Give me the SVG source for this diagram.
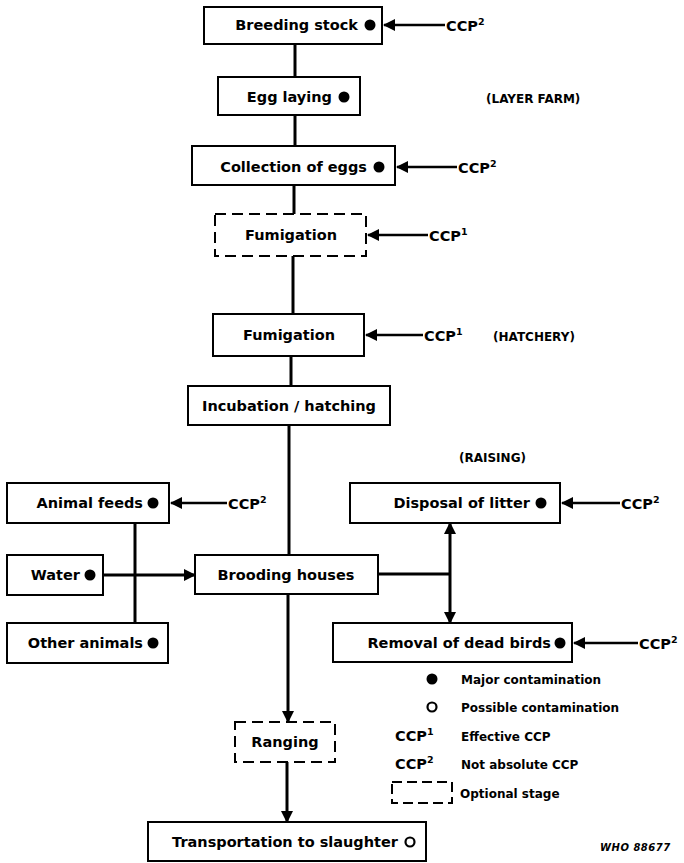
<svg xmlns="http://www.w3.org/2000/svg" width="684" height="863" viewBox="0 0 684 863">
<style>
.box{fill:#fff;stroke:#000;stroke-width:2}
.dash{fill:#fff;stroke:#000;stroke-width:2;stroke-dasharray:11 6}
.t{font-family:"DejaVu Sans","Liberation Sans",sans-serif;font-weight:bold;font-size:14.5px;fill:#000}
.c{text-anchor:middle}
.e{text-anchor:end}
.lab{font-family:"DejaVu Sans","Liberation Sans",sans-serif;font-weight:bold;font-size:12px;fill:#000}
.lg{font-family:"DejaVu Sans","Liberation Sans",sans-serif;font-weight:bold;font-size:12px;fill:#000}
.sup{font-size:9.5px}
.ln{stroke:#000;stroke-width:3;fill:none}
.thin{stroke:#000;stroke-width:2.5;fill:none}
</style>
<defs>
<marker id="ah" markerUnits="userSpaceOnUse" markerWidth="12" markerHeight="12" refX="11" refY="6" orient="auto">
<path d="M0,0 L12,6 L0,12 Z" fill="#000"/>
</marker>
<marker id="as" markerUnits="userSpaceOnUse" markerWidth="12" markerHeight="12" refX="1" refY="6" orient="auto">
<path d="M12,0 L0,6 L12,12 Z" fill="#000"/>
</marker>
</defs>

<g id="connectors">
<line class="ln" x1="295" y1="44" x2="295" y2="77"/>
<line class="ln" x1="295" y1="115" x2="295" y2="146"/>
<line class="ln" x1="294" y1="185" x2="294" y2="214"/>
<line class="ln" x1="293" y1="256" x2="293" y2="314"/>
<line class="ln" x1="291" y1="356" x2="291" y2="386"/>
<line class="ln" x1="289" y1="425" x2="289" y2="555"/>
<line class="ln" x1="135" y1="523" x2="135" y2="623"/>
<line class="ln" x1="103" y1="575" x2="195" y2="575" marker-end="url(#ah)"/>
<line class="ln" x1="378" y1="574" x2="450" y2="574"/>
<line class="ln" x1="450" y1="523" x2="450" y2="623" marker-start="url(#as)" marker-end="url(#ah)"/>
<line class="ln" x1="288" y1="594" x2="288" y2="722" marker-end="url(#ah)"/>
<line class="ln" x1="287" y1="762" x2="287" y2="822" marker-end="url(#ah)"/>
<line class="thin" x1="445" y1="25" x2="384" y2="25" marker-end="url(#ah)"/>
<line class="thin" x1="457" y1="167" x2="397" y2="167" marker-end="url(#ah)"/>
<line class="thin" x1="428" y1="235" x2="368" y2="235" marker-end="url(#ah)"/>
<line class="thin" x1="423" y1="335" x2="366" y2="335" marker-end="url(#ah)"/>
<line class="thin" x1="227" y1="503" x2="171" y2="503" marker-end="url(#ah)"/>
<line class="thin" x1="620" y1="503" x2="562" y2="503" marker-end="url(#ah)"/>
<line class="thin" x1="638" y1="643" x2="574" y2="643" marker-end="url(#ah)"/>
</g>

<g id="breeding-stock">
<rect class="box" x="204" y="7" width="178" height="37"/>
<text class="t e" x="358" y="30">Breeding stock</text>
<circle cx="370" cy="25" r="5.5"/>
</g>
<g id="ccp-breeding"><text class="t" x="446" y="31">CCP<tspan class="sup" dy="-6">2</tspan></text></g>

<g id="egg-laying">
<rect class="box" x="218" y="77" width="142" height="38"/>
<text class="t e" x="332" y="102">Egg laying</text>
<circle cx="344" cy="97" r="5.5"/>
</g>
<text class="lab" x="486" y="103">(LAYER FARM)</text>

<g id="collection">
<rect class="box" x="192" y="146" width="203" height="39"/>
<text class="t e" x="367" y="172">Collection of eggs</text>
<circle cx="379" cy="167" r="5.5"/>
</g>
<g id="ccp-collection"><text class="t" x="458" y="173">CCP<tspan class="sup" dy="-6">2</tspan></text></g>

<g id="fumigation-1">
<rect class="dash" x="215" y="214" width="151" height="42"/>
<text class="t c" x="291" y="240">Fumigation</text>
</g>
<g id="ccp-fum1"><text class="t" x="429" y="241">CCP<tspan class="sup" dy="-6">1</tspan></text></g>

<g id="fumigation-2">
<rect class="box" x="213" y="314" width="151" height="42"/>
<text class="t c" x="289" y="340">Fumigation</text>
</g>
<g id="ccp-fum2"><text class="t" x="424" y="341">CCP<tspan class="sup" dy="-6">1</tspan></text></g>
<text class="lab" x="493" y="341">(HATCHERY)</text>

<g id="incubation">
<rect class="box" x="188" y="386" width="202" height="39"/>
<text class="t c" x="289" y="411">Incubation / hatching</text>
</g>

<text class="lab" x="459" y="462">(RAISING)</text>

<g id="animal-feeds">
<rect class="box" x="7" y="483" width="162" height="40"/>
<text class="t e" x="143" y="508">Animal feeds</text>
<circle cx="153" cy="503" r="5.5"/>
</g>
<g id="ccp-feeds"><text class="t" x="228" y="509">CCP<tspan class="sup" dy="-6">2</tspan></text></g>

<g id="water">
<rect class="box" x="7" y="555" width="96" height="40"/>
<text class="t e" x="80" y="580">Water</text>
<circle cx="90" cy="575" r="5.5"/>
</g>

<g id="other-animals">
<rect class="box" x="7" y="623" width="161" height="40"/>
<text class="t e" x="143" y="648">Other animals</text>
<circle cx="153" cy="643" r="5.5"/>
</g>

<g id="brooding-houses">
<rect class="box" x="195" y="555" width="183" height="39"/>
<text class="t c" x="286" y="580">Brooding houses</text>
</g>

<g id="disposal">
<rect class="box" x="350" y="483" width="210" height="40"/>
<text class="t e" x="530" y="508">Disposal of litter</text>
<circle cx="541" cy="503" r="5.5"/>
</g>
<g id="ccp-disposal"><text class="t" x="621" y="509">CCP<tspan class="sup" dy="-6">2</tspan></text></g>

<g id="removal">
<rect class="box" x="333" y="623" width="239" height="39"/>
<text class="t e" x="551" y="648">Removal of dead birds</text>
<circle cx="560" cy="643" r="5.5"/>
</g>
<g id="ccp-removal"><text class="t" x="639" y="649">CCP<tspan class="sup" dy="-6">2</tspan></text></g>

<g id="ranging">
<rect class="dash" x="235" y="722" width="100" height="40"/>
<text class="t c" x="285" y="747">Ranging</text>
</g>

<g id="transportation">
<rect class="box" x="148" y="822" width="278" height="39"/>
<text class="t e" x="398" y="847">Transportation to slaughter</text>
<circle cx="410" cy="842" r="4.5" fill="#fff" stroke="#000" stroke-width="2.2"/>
</g>

<g id="legend">
<circle cx="432" cy="679" r="5.5"/>
<text class="lg" x="461" y="684">Major contamination</text>
<circle cx="432" cy="707" r="4.5" fill="#fff" stroke="#000" stroke-width="2.2"/>
<text class="lg" x="461" y="712">Possible contamination</text>
<text class="t" x="395" y="741">CCP<tspan class="sup" dy="-6">1</tspan></text>
<text class="lg" x="461" y="741">Effective CCP</text>
<text class="t" x="395" y="769">CCP<tspan class="sup" dy="-6">2</tspan></text>
<text class="lg" x="461" y="769">Not absolute CCP</text>
<rect x="392" y="782" width="60" height="21" fill="none" stroke="#000" stroke-width="2" stroke-dasharray="10 5"/>
<text class="lg" x="460" y="798">Optional stage</text>
<text x="600" y="851" font-family="'DejaVu Sans','Liberation Sans',sans-serif" font-weight="bold" font-style="italic" font-size="10" letter-spacing="0.5">WHO  88677</text>
</g>
</svg>
